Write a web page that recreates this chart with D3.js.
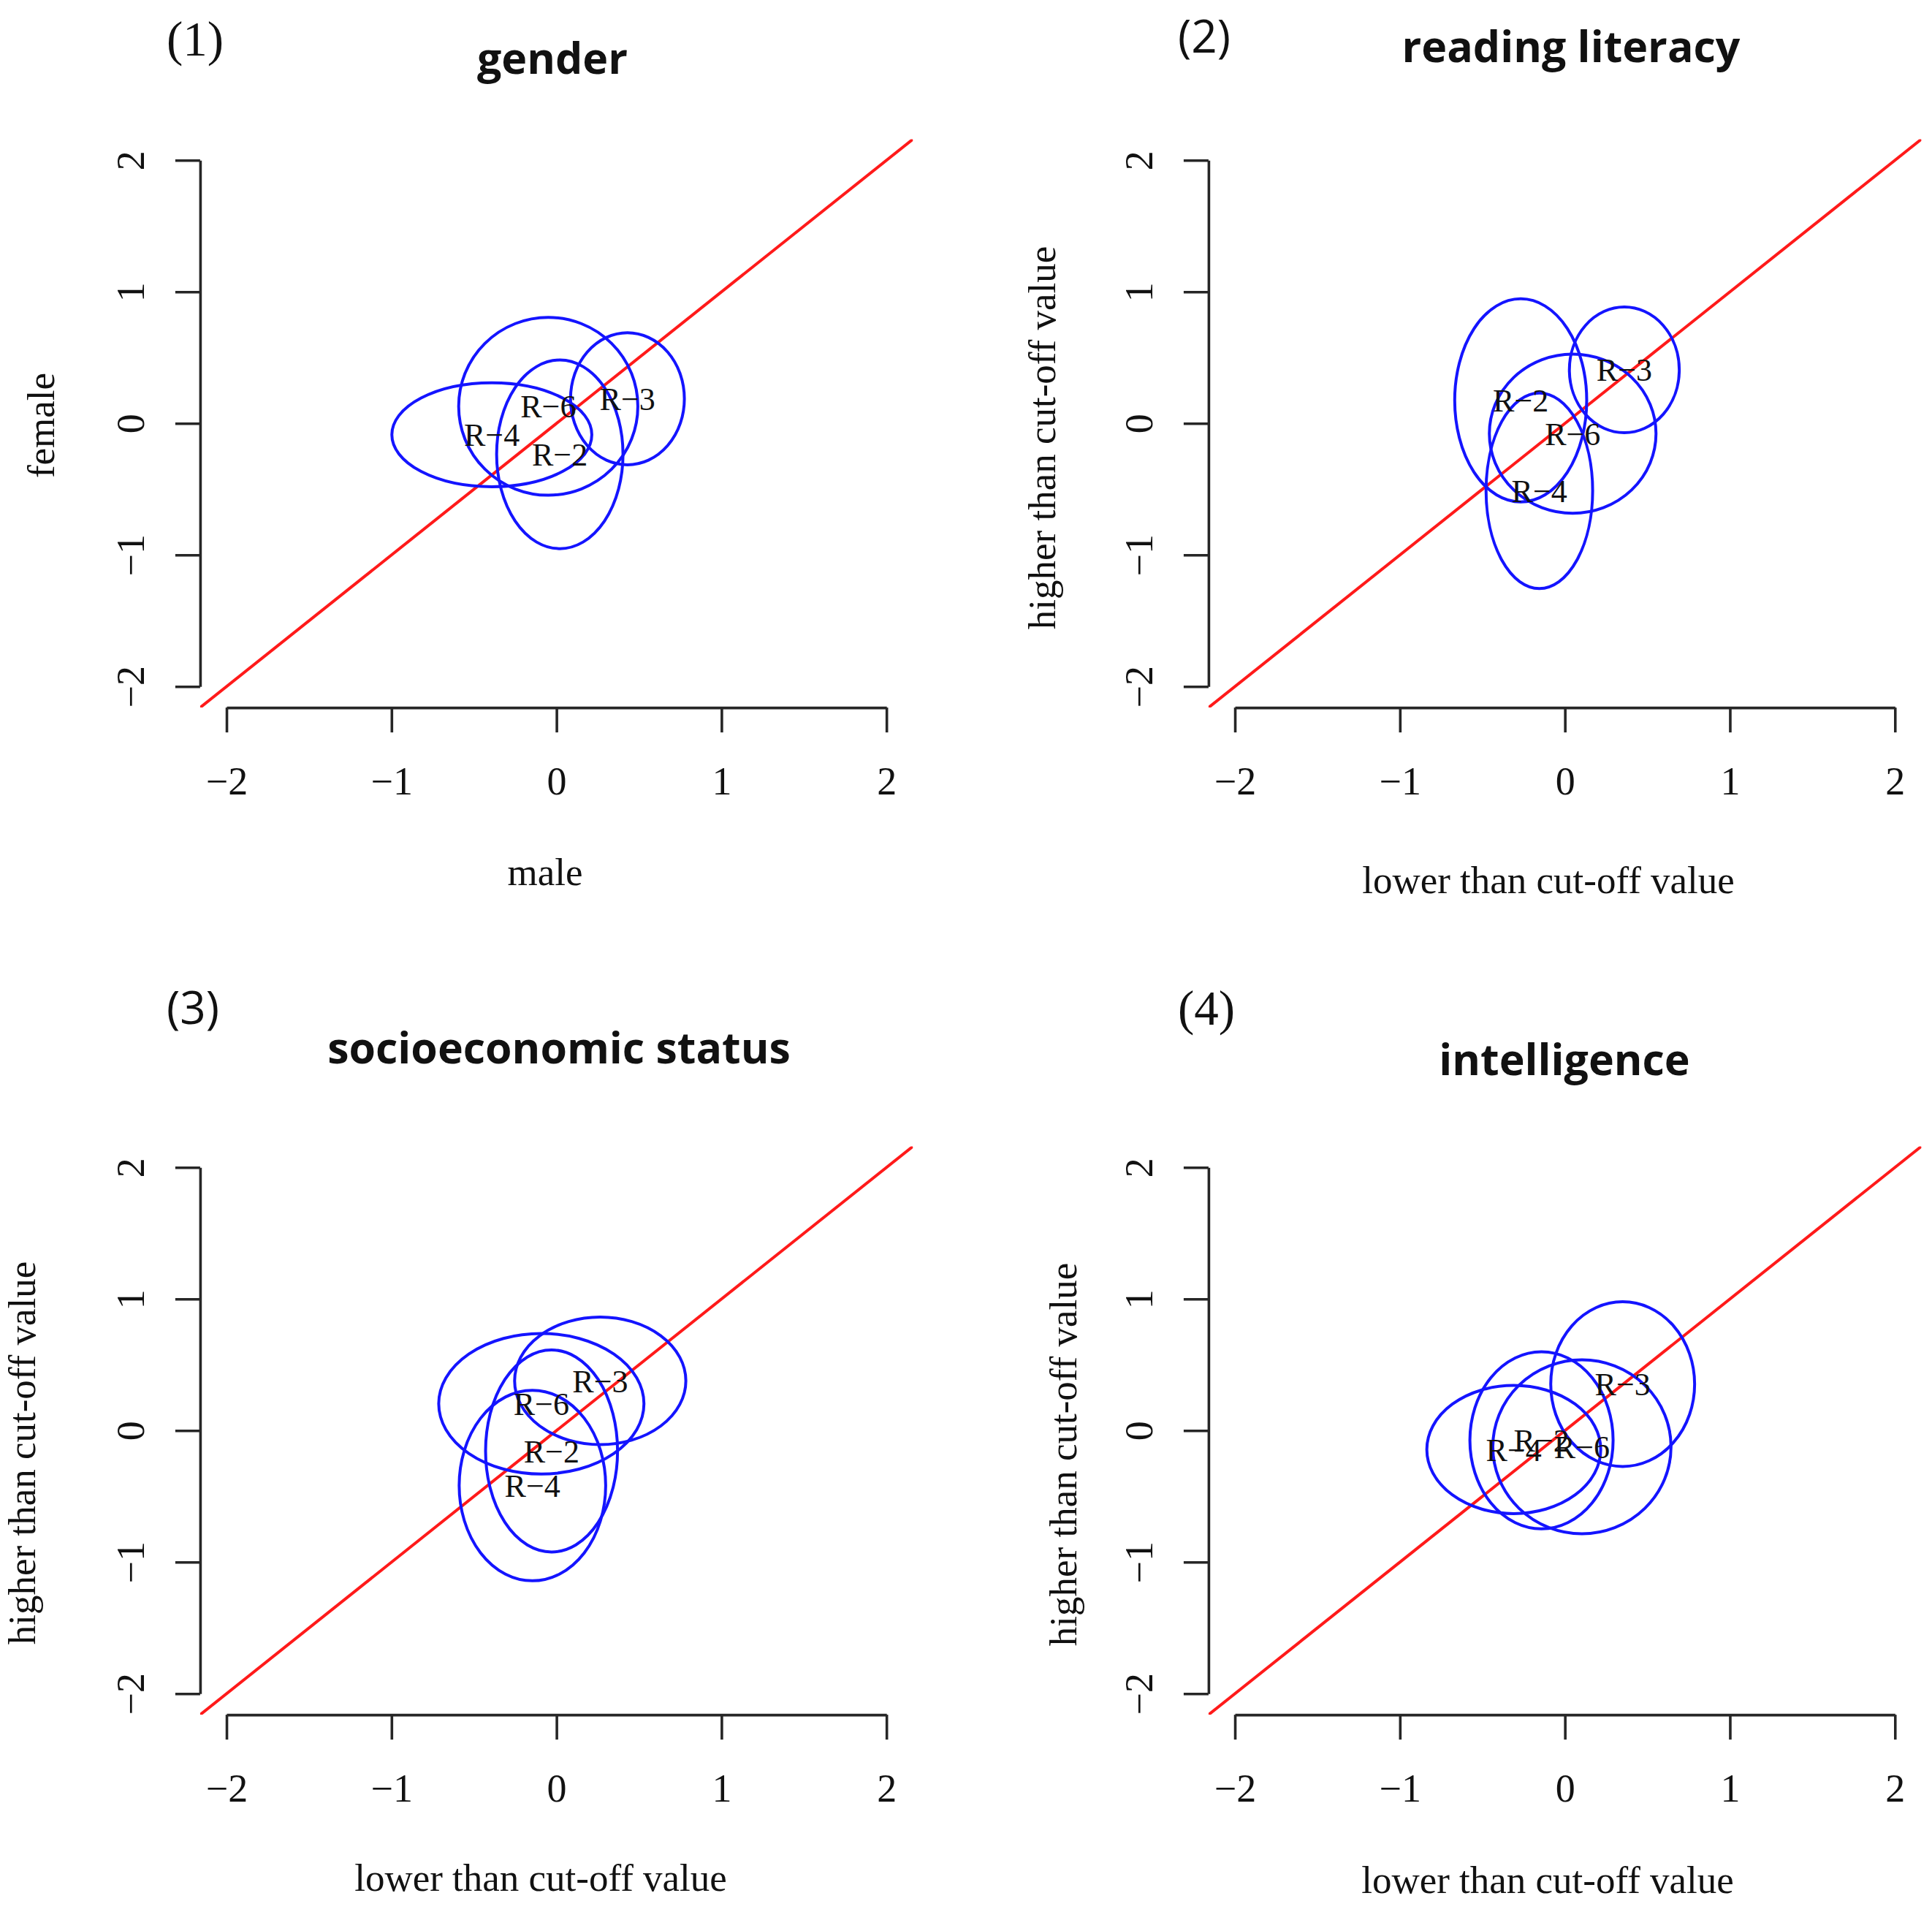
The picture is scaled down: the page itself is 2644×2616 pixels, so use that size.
<!DOCTYPE html>
<html>
<head>
<meta charset="utf-8">
<script src="https://cdn.jsdelivr.net/npm/d3@7/dist/d3.min.js"></script>
<style>
  html, body { margin: 0; padding: 0; background: #ffffff; }
  svg { display: block; }
</style>
</head>
<body>
<svg id="chart" width="2644" height="2616"></svg>
<script>
// ---------------- DATA ----------------
const panelTags    = ["(1)", "(2)", "(3)", "(4)"];
const panelTitles  = ["gender", "reading literacy", "socioeconomic status", "intelligence"];
const xAxisLabels  = ["male", "lower than cut-off value", "lower than cut-off value", "lower than cut-off value"];
const yAxisLabels  = ["female", "higher than cut-off value", "higher than cut-off value", "higher than cut-off value"];
const groupLabels  = ["R\u22122", "R\u22123", "R\u22124", "R\u22126"];
const tickValues   = [-2, -1, 0, 1, 2];
const axisLimits   = [-2, 2];

// ellipse centres and semi-axes, one row per panel, columns follow groupLabels (R-2, R-3, R-4, R-6)
const centerX = [
  [ 0.020,  0.430, -0.392, -0.050],
  [-0.268,  0.360, -0.155,  0.047],
  [-0.030,  0.265, -0.146, -0.092],
  [-0.142,  0.350, -0.310,  0.103]
];
const centerY = [
  [-0.235,  0.187, -0.086,  0.130],
  [ 0.175,  0.407, -0.512, -0.078],
  [-0.155,  0.378, -0.418,  0.204],
  [-0.074,  0.353, -0.144, -0.123]
];
const radiusX = [
  [0.383, 0.345, 0.606, 0.543],
  [0.400, 0.333, 0.323, 0.505],
  [0.400, 0.519, 0.444, 0.622],
  [0.434, 0.436, 0.527, 0.540]
];
const radiusY = [
  [0.717, 0.502, 0.395, 0.676],
  [0.772, 0.478, 0.743, 0.605],
  [0.768, 0.485, 0.724, 0.534],
  [0.673, 0.626, 0.487, 0.661]
];

// ---------------- LAYOUT / STYLE ----------------
const SERIF = "'Liberation Serif', 'Times New Roman', 'DejaVu Serif', serif";
const SANS  = "'Open Sans', 'Noto Sans', 'DejaVu Sans', sans-serif";

const layout = [
  { left: 273.9,  right: 1249.3, top: 190.5,  bottom: 968.1,
    tag: {x: 228,  y: 76,   font: SERIF, size: 67},
    title: {x: 756,  y: 101},
    xlab: {x: 746,  y: 1211},
    ylab: {x: 74,   y: 582} },
  { left: 1653.9, right: 2629.4, top: 190.5,  bottom: 968.1,
    tag: {x: 1612, y: 72,   font: SANS,  size: 62},
    title: {x: 2150, y: 85},
    xlab: {x: 2119, y: 1222},
    ylab: {x: 1444, y: 599} },
  { left: 273.9,  right: 1249.3, top: 1568.5, bottom: 2346.1,
    tag: {x: 228,  y: 1401, font: SANS,  size: 62},
    title: {x: 765,  y: 1455},
    xlab: {x: 740,  y: 2587},
    ylab: {x: 48,   y: 1988} },
  { left: 1653.9, right: 2629.4, top: 1568.5, bottom: 2346.1,
    tag: {x: 1612, y: 1402, font: SERIF, size: 67},
    title: {x: 2141, y: 1471},
    xlab: {x: 2118, y: 2590},
    ylab: {x: 1473, y: 1990} }
];

const AXIS_COLOR = "#262626";
const AXIS_WIDTH = 3.6;
const TICK_LEN = 34;
const tickFmt = d3.format("d");
const svg = d3.select("#chart");

// R-style 4% domain extension
const span = axisLimits[1] - axisLimits[0];
const plotDomain = [axisLimits[0] - 0.04 * span, axisLimits[1] + 0.04 * span];

layout.forEach((L, p) => {
  const x = d3.scaleLinear().domain(plotDomain).range([L.left, L.right]);
  const y = d3.scaleLinear().domain(plotDomain).range([L.bottom, L.top]);
  const xAxisScale = d3.scaleLinear().domain(axisLimits).range(axisLimits.map(x));
  const yAxisScale = d3.scaleLinear().domain(axisLimits).range(axisLimits.map(y));

  const g = svg.append("g").attr("class", "panel panel-" + (p + 1));

  // x axis
  const gx = g.append("g")
    .attr("transform", `translate(0,${L.bottom})`)
    .call(d3.axisBottom(xAxisScale).tickValues(tickValues).tickFormat(tickFmt)
      .tickSize(TICK_LEN).tickSizeOuter(0));
  gx.selectAll("path.domain").attr("stroke", AXIS_COLOR).attr("stroke-width", AXIS_WIDTH);
  gx.selectAll(".tick line").attr("stroke", AXIS_COLOR).attr("stroke-width", AXIS_WIDTH);
  gx.selectAll(".tick text")
    .attr("y", 119).attr("dy", 0)
    .attr("fill", "#111")
    .style("font-family", SERIF).style("font-size", "54px");

  // y axis
  const gy = g.append("g")
    .attr("transform", `translate(${L.left},0)`)
    .call(d3.axisLeft(yAxisScale).tickValues(tickValues).tickFormat(tickFmt)
      .tickSize(TICK_LEN).tickSizeOuter(0));
  gy.selectAll("path.domain").attr("stroke", AXIS_COLOR).attr("stroke-width", AXIS_WIDTH);
  gy.selectAll(".tick line").attr("stroke", AXIS_COLOR).attr("stroke-width", AXIS_WIDTH);
  gy.selectAll(".tick text")
    .attr("x", 0).attr("y", 0).attr("dy", 0)
    .attr("transform", "translate(-77,0) rotate(-90)")
    .attr("text-anchor", "middle")
    .attr("fill", "#111")
    .style("font-family", SERIF).style("font-size", "54px");

  // clip to plot region
  const clipId = "clip" + p;
  g.append("clipPath").attr("id", clipId)
    .append("rect")
    .attr("x", L.left).attr("y", L.top)
    .attr("width", L.right - L.left).attr("height", L.bottom - L.top);

  const plot = g.append("g").attr("clip-path", `url(#${clipId})`);

  // identity line y = x
  plot.append("path")
    .datum(plotDomain)
    .attr("d", d3.line().x(d => x(d)).y(d => y(d)))
    .attr("fill", "none")
    .attr("stroke", "#ff1a1a")
    .attr("stroke-width", 4);

  // ellipses
  const ell = groupLabels.map((lab, i) => ({
    label: lab, cx: centerX[p][i], cy: centerY[p][i], rx: radiusX[p][i], ry: radiusY[p][i]
  }));

  plot.selectAll("ellipse.grp")
    .data(ell)
    .join("ellipse")
    .attr("class", "grp")
    .attr("cx", d => x(d.cx))
    .attr("cy", d => y(d.cy))
    .attr("rx", d => x(d.cx + d.rx) - x(d.cx))
    .attr("ry", d => y(d.cy - d.ry) - y(d.cy))
    .attr("fill", "none")
    .attr("stroke", "#1414ff")
    .attr("stroke-width", 4);

  plot.selectAll("text.grp")
    .data(ell)
    .join("text")
    .attr("class", "grp")
    .attr("x", d => x(d.cx))
    .attr("y", d => y(d.cy))
    .attr("dy", "0.35em")
    .attr("text-anchor", "middle")
    .attr("fill", "#111")
    .style("font-family", SERIF)
    .style("font-size", "44px")
    .text(d => d.label);

  // panel tag
  g.append("text")
    .attr("x", L.tag.x).attr("y", L.tag.y)
    .attr("fill", "#111")
    .style("font-family", L.tag.font)
    .style("font-size", L.tag.size + "px")
    .text(panelTags[p]);

  // title
  g.append("text")
    .attr("x", L.title.x).attr("y", L.title.y)
    .attr("text-anchor", "middle")
    .attr("fill", "#111")
    .style("font-family", SANS)
    .style("font-weight", "700")
    .style("font-size", "59px")
    .text(panelTitles[p]);

  // x label
  g.append("text")
    .attr("x", L.xlab.x).attr("y", L.xlab.y)
    .attr("text-anchor", "middle")
    .attr("fill", "#111")
    .style("font-family", SERIF)
    .style("font-size", "53px")
    .text(xAxisLabels[p]);

  // y label
  g.append("text")
    .attr("transform", `translate(${L.ylab.x},${L.ylab.y}) rotate(-90)`)
    .attr("text-anchor", "middle")
    .attr("fill", "#111")
    .style("font-family", SERIF)
    .style("font-size", "53px")
    .text(yAxisLabels[p]);
});
</script>
</body>
</html>
